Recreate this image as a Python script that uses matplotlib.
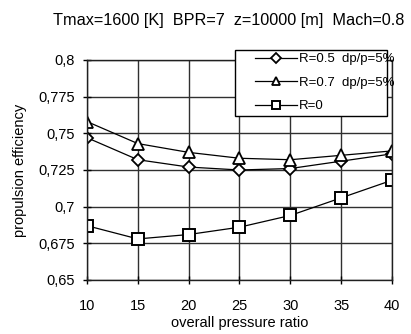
import matplotlib
matplotlib.use("Agg")
import matplotlib.pyplot as plt
from matplotlib.patches import Rectangle

plt.rcParams['font.family'] = ['Liberation Sans', 'DejaVu Sans']

# overall pressure ratio
opr = [10, 15, 20, 25, 30, 35, 40]
eff_r05 = [0.747, 0.732, 0.727, 0.725, 0.726, 0.731, 0.736]
eff_r07 = [0.758, 0.743, 0.737, 0.733, 0.732, 0.735, 0.738]
eff_r0 = [0.687, 0.678, 0.681, 0.686, 0.694, 0.706, 0.718]

yticks = [0.65, 0.675, 0.7, 0.725, 0.75, 0.775, 0.8]
ylabels = ['0,65', '0,675', '0,7', '0,725', '0,75', '0,775', '0,8']

fig = plt.figure(figsize=(4.11, 3.34), dpi=100)
ax = fig.add_axes([0.2117, 0.1617, 0.742, 0.6587])

ax.plot(opr, eff_r05, color='black', lw=0.9, marker='D', ms=6,
        mfc='white', mec='black', mew=1.3, label='R=0.5  dp/p=5%')
ax.plot(opr, eff_r07, color='black', lw=0.9, marker='^', ms=8,
        mfc='white', mec='black', mew=1.3, label='R=0.7  dp/p=5%')
ax.plot(opr, eff_r0, color='black', lw=0.9, marker='s', ms=8,
        mfc='white', mec='black', mew=1.4, label='R=0')

ax.set_xlim(10, 40)
ax.set_ylim(0.65, 0.8)
ax.set_xticks(opr)
ax.set_yticks(yticks)
ax.set_yticklabels(ylabels)
ax.grid(True, color='#303030', lw=1)
for s in ax.spines.values():
    s.set_color('#202020')
    s.set_linewidth(1)
ax.tick_params(direction='inout', length=6, width=1, labelsize=10.5, pad=6)
ax.tick_params(axis='x', pad=11)

ax.set_xlabel('overall pressure ratio', fontsize=10.5, labelpad=2)
ax.set_ylabel('propulsion efficiency', fontsize=10.5, labelpad=8)

fig.text(0.557, 0.94, 'Tmax=1600 [K]  BPR=7  z=10000 [m]  Mach=0.8',
         ha='center', va='center', fontsize=11.7)

# legend box drawn separately so the text can run past its right edge
box = Rectangle((0.5718, 0.6527), 0.3698, 0.1976, transform=fig.transFigure,
                facecolor='white', edgecolor='black', lw=1, zorder=5)
fig.patches.append(box)
leg = fig.legend(loc='upper left', bbox_to_anchor=(255 / 411, 1 - 53 / 334),
                 bbox_transform=fig.transFigure, borderaxespad=0, borderpad=0,
                 frameon=False, handlelength=3.2, fontsize=9.5,
                 labelspacing=0.85, handletextpad=0.15, markerscale=0.8)
leg.set_zorder(6)

fig.savefig('out.png', dpi=100)
